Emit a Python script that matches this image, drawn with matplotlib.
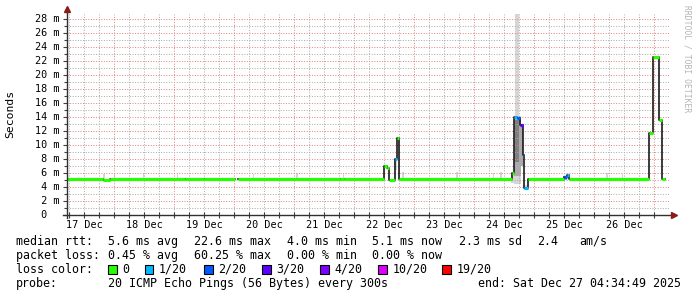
import numpy as np
import matplotlib
matplotlib.use('Agg')
import matplotlib.pyplot as plt
from matplotlib.patches import Rectangle
from matplotlib.transforms import blended_transform_factory

plt.rcParams['font.family'] = ['DejaVu Sans Mono', 'DejaVu Sans']

# ---------------- data (time = hours since 17 Dec 00:00, values in ms) -------------
nan = float('nan')
seg_start = [5.2, 19.6, 22.4, 52.4, 60.0, 72.4, 73.6, 114.4, 116.0,
             132.0, 133.2, 134.0, 136.4, 137.2, 138.0,
             183.2, 184.0, 185.2, 186.6, 187.6, 188.2, 189.5,
             204.0, 205.2, 206.0,
             238.0, 239.5, 242.0, 243.4]
seg_median = [5.2, 5.05, 5.2, 5.1, 5.2, nan, 5.2, 5.1, 5.2,
              7.0, 6.7, 5.0, 8.0, 11.0, 5.2,
              6.0, 14.0, 13.9, 12.9, 8.6, 3.9, 5.2,
              5.4, 5.7, 5.2,
              11.7, 22.6, 13.6, 5.1]
seg_loss = [0, 0, 0, 0, 0, 0, 0, 0, 0,
            0, 0, 0, 1, 0, 0,
            0, 1, 2, 3, 2, 1, 0,
            2, 1, 0,
            0, 0, 0, 0]
data_end = 244.4

# smoke bands: start, end, low, high, shade level (0 light .. 2 dark)
smoke_start = [19.6, 24.0, 35.6, 49.2, 79.6, 96.8, 115.6, 136.2, 139.4, 160.8,
               175.6, 178.4, 220.8, 227.4, 203.8,
               182.8, 184.0, 184.4, 184.0, 184.4, 186.8, 188.0]
smoke_end = [20.4, 24.6, 36.0, 49.8, 80.0, 97.6, 116.0, 137.2, 140.0, 161.6,
             176.0, 179.4, 221.6, 227.8, 205.2,
             184.0, 187.0, 186.2, 186.8, 186.0, 187.6, 189.2]
smoke_low = [5.2, 5.2, 5.2, 5.2, 5.2, 5.2, 5.2, 6.4, 5.2, 5.2,
             5.2, 5.2, 5.2, 5.2, 5.0,
             4.6, 4.4, 14.2, 5.5, 7.5, 7.0, 3.5]
smoke_high = [5.9, 6.0, 5.8, 5.8, 5.8, 6.0, 5.8, 8.1, 6.2, 6.1,
              6.0, 6.1, 6.0, 5.8, 5.6,
              6.1, 14.2, 28.7, 13.8, 13.5, 12.5, 4.3]
smoke_level = [0, 0, 0, 0, 0, 0, 0, 0, 0, 0,
               0, 0, 0, 0, 1,
               0, 0, 0, 1, 2, 1, 0]

loss_labels = ['0', '1/20', '2/20', '3/20', '4/20', '10/20', '19/20']
loss_colors = ['#26ff00', '#00b8ff', '#0059ff', '#5e00ff', '#7e00ff', '#dd00ff', '#ff0000']

day_labels = ['17 Dec', '18 Dec', '19 Dec', '20 Dec', '21 Dec',
              '22 Dec', '23 Dec', '24 Dec', '25 Dec', '26 Dec']
day_label_pos = [12, 36, 60, 84, 108, 132, 156, 180, 204, 228]

ytick_vals = list(range(0, 29, 2))

stats_rtt = ['5.6 ms avg', '22.6 ms max', '4.0 ms min', '5.1 ms now', '2.3 ms sd', '2.4', 'am/s']
stats_loss = ['0.45 % avg', '60.25 % max', '0.00 % min', '0.00 % now']
probe_text = '20 ICMP Echo Pings (56 Bytes) every 300s'
end_text = 'end: Sat Dec 27 04:34:49 2025'

# ---------------- figure ----------------
W, H = 697, 297
fig = plt.figure(figsize=(W / 100, H / 100), dpi=100)
fig.patch.set_facecolor('white')
L, R, T, B = 67, 669, 14, 215
ax = fig.add_axes([L / W, 1 - B / H, (R - L) / W, (B - T) / H])
ax.set_facecolor('white')
X0, X1 = 5.2, 246.0
Y0, Y1 = 0.0, 28.7
ax.set_xlim(X0, X1)
ax.set_ylim(Y0, Y1)
for s in ax.spines.values():
    s.set_visible(False)

# smoke
shades = ['#d6d6d6', '#ababab', '#808080']
ax.bar(smoke_start, np.array(smoke_high) - np.array(smoke_low),
       width=np.array(smoke_end) - np.array(smoke_start), bottom=smoke_low,
       align='edge', color=[shades[i] for i in smoke_level], lw=0, zorder=1)

# grid
minor_col = '#acacac'
major_col = '#e48484'
dots = (0, (1, 1.6))
for h in np.arange(6, X1, 6):
    col = major_col if h % 24 == 0 else minor_col
    ax.axvline(h, color=col, lw=0.72, ls=dots, zorder=1.5)
for v in np.arange(1, 29, 1):
    col = major_col if v % 2 == 0 else minor_col
    ax.axhline(v, color=col, lw=0.72, ls=dots, zorder=1.5)

# median: black step plus colored segments
xs = seg_start + [data_end]
ys = seg_median + [seg_median[-1]]
ax.step(xs, ys, where='post', color='#1a1a1a', lw=1.2, zorder=3)
ends = seg_start[1:] + [data_end]
ok = [i for i in range(len(seg_start)) if not np.isnan(seg_median[i])]
ax.hlines([seg_median[i] for i in ok], [seg_start[i] for i in ok], [ends[i] for i in ok],
          colors=[loss_colors[seg_loss[i]] for i in ok], lw=2.3, zorder=4,
          capstyle='butt')

# ticks
ax.set_xticks(day_label_pos)
ax.set_xticklabels(day_labels, fontsize=7.3)
ax.set_xticks(np.arange(6, X1, 6), minor=True)
ax.set_yticks(ytick_vals)
ax.set_yticklabels([])
ax.set_yticks(np.arange(1, 29, 2), minor=True)
ax.tick_params(axis='x', which='both', direction='inout', length=4, width=0.8,
               color='#404040', pad=1.5)
ax.tick_params(axis='y', which='both', direction='out', length=3, width=0.8,
               color='#404040')
ax.tick_params(axis='y', which='minor', length=2)

bt = blended_transform_factory(fig.transFigure, ax.transData)
for v in ytick_vals:
    lab = f'{v:2d} m' if v > 0 else ' 0'
    fig.text(35 / W, v, lab, transform=bt, ha='left', va='center', fontsize=7.3)

# axis lines and arrows
axc = '#303030'
ax.plot([-4 / 602, 1 + 2 / 602], [0, 0], transform=ax.transAxes, color=axc, lw=1.0,
        clip_on=False, zorder=5)
ax.plot([0, 0], [-3 / 201, 1 + 2 / 201], transform=ax.transAxes, color=axc, lw=1.0,
        clip_on=False, zorder=5)
ax.plot([1 + 5 / 602], [0], marker='>', ms=4, color='#8b1a1a', mec='#8b1a1a',
        transform=ax.transAxes, clip_on=False, zorder=6)
ax.plot([0], [1 + 5 / 201], marker='^', ms=4, color='#8b1a1a', mec='#8b1a1a',
        transform=ax.transAxes, clip_on=False, zorder=6)

# labels
fig.text(10 / W, 1 - 114 / H, 'Seconds', rotation=90, ha='center', va='center',
         fontsize=8.2)
fig.text(687 / W, 1 - 59 / H, 'RRDTOOL / TOBI OETIKER', rotation=-90, ha='center',
         va='center', fontsize=5.8, color='#b4b4b4')

FS = 8.4
def ftext(x, y, s, **kw):
    fig.text(x / W, 1 - y / H, s, fontsize=FS, va='baseline', **kw)

base = [245, 259, 273, 287]
ftext(16, base[0], 'median rtt:')
for x, s in zip([108, 194, 287, 372, 459, 537, 579], stats_rtt):
    ftext(x, base[0], s)
ftext(16, base[1], 'packet loss:')
for x, s in zip([108, 194, 287, 372], stats_loss):
    ftext(x, base[1], s)
ftext(16, base[2], 'loss color:')
box_x = [108, 144.5, 204, 262, 320, 378, 442]
for bx, lab, col in zip(box_x, loss_labels, loss_colors):
    fig.add_artist(Rectangle((bx / W, 1 - 274 / H), 8.5 / W, 9.5 / H, transform=fig.transFigure,
                             facecolor=col, edgecolor='black', lw=0.8))
    ftext(bx + 14.5, base[2], lab)
ftext(16, base[3], 'probe:')
ftext(108, base[3], probe_text)
ftext(681, base[3], end_text, ha='right')

fig.savefig('out.png', dpi=100, facecolor='white')
